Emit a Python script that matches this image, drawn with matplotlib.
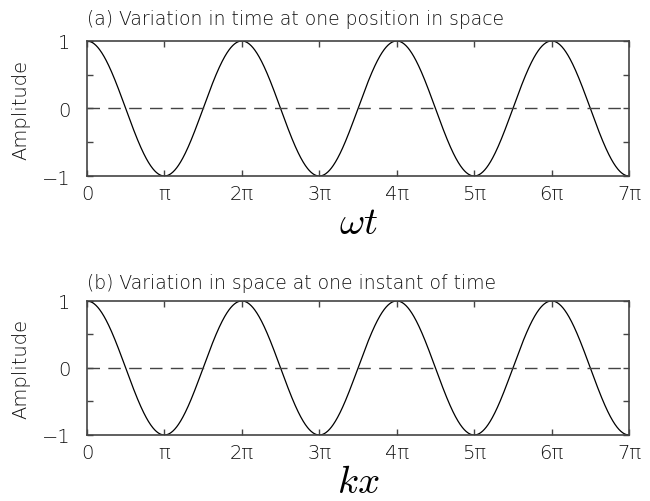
import numpy as np
import matplotlib
matplotlib.use("Agg")
import matplotlib.pyplot as plt
from matplotlib.ticker import MultipleLocator

# phase axis in units of pi, 0..7
x_ticks = [0, 1, 2, 3, 4, 5, 6, 7]
x_labels = ["0", "π", "2π", "3π", "4π", "5π", "6π", "7π"]
y_ticks = [-1, 0, 1]
y_labels = ["−1", "0", "1"]
titles = ["(a) Variation in time at one position in space",
          "(b) Variation in space at one instant of time"]
xlabels = [r"$\omega t$", r"$kx$"]

phase = np.linspace(0, 7 * np.pi, 1500)
amp = np.cos(phase)

plt.rcParams["mathtext.fontset"] = "cm"
plt.rcParams["font.family"] = "DejaVu Sans"

fig = plt.figure(figsize=(6.5, 5.02), dpi=100)
boxes = [[0.1338, 0.6474, 0.834, 0.269], [0.1338, 0.1315, 0.834, 0.267]]
title_pads = [12, 9]
txt = "#111111"

for box, ttl, xl, tp in zip(boxes, titles, xlabels, title_pads):
    ax = fig.add_axes(box)
    ax.plot(phase / np.pi, amp, color="black", lw=0.9)
    ax.axhline(0, color="#444444", lw=1.0, dashes=(9, 6))
    ax.set_xlim(0, 7)
    ax.set_ylim(-1, 1)
    ax.set_xticks(x_ticks)
    ax.set_xticklabels(x_labels, fontweight="light")
    ax.set_yticks(y_ticks)
    ax.set_yticklabels(y_labels, fontweight="light")
    ax.yaxis.set_minor_locator(MultipleLocator(0.5))
    ax.tick_params(which="both", direction="in", top=True, right=True,
                   length=4, width=1, color="#444444", labelsize=14,
                   labelcolor=txt)
    ax.tick_params(axis="x", pad=6)
    ax.tick_params(axis="y", pad=12)
    for s in ax.spines.values():
        s.set_color("#444444")
        s.set_linewidth(1.2)
    ax.set_ylabel("Amplitude", fontsize=14, color=txt, labelpad=8,
                  fontweight="light")
    ax.set_title(ttl, fontsize=13.5, color=txt, loc="left", pad=tp,
                 fontweight="light")
    ax.set_xlabel(xl, fontsize=28, color="black", labelpad=0)

fig.savefig("out.png", dpi=100)
